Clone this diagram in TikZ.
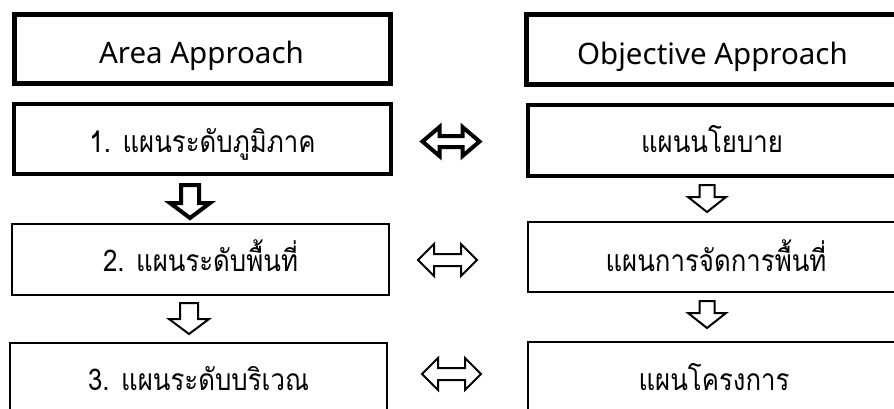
\documentclass[tikz,border=0pt]{standalone}
\usepackage{fontspec}
\setmainfont{Noto Sans}
\newfontfamily\thaifont[Script=Thai,FakeStretch=0.86]{Loma}
\begin{document}
\begin{tikzpicture}[x=1pt,y=-1pt,
  thickbox/.style={draw=black,line width=5pt,minimum width=376pt,minimum height=69pt,inner sep=0pt},
  midbox/.style={draw=black,line width=4pt,minimum width=377pt,minimum height=70pt,inner sep=0pt},
  thinbox/.style={draw=black,line width=2pt,minimum width=377pt,minimum height=71pt,inner sep=0pt},
  lbl/.style={anchor=base,inner sep=0pt,font=\fontsize{29.5}{32}\selectfont},
  thl/.style={anchor=base,inner sep=0pt,font=\thaifont\fontsize{30}{34}\selectfont},
  barrow/.style={draw=black,line join=miter,fill=white}]
\useasboundingbox (0,0) rectangle (894,408);
\clip (0,0) rectangle (894,408);
% left column boxes
\node[thickbox] (h1) at (202.5,49) {};
\node[midbox] (a1) at (202.5,139) {};
\node[thinbox] (a2) at (200.5,259.5) {};
\node[thinbox] (a3) at (198.5,378.5) {};
% right column boxes
\node[thickbox,minimum height=70pt] (h2) at (714.5,49.5) {};
\node[midbox,minimum height=71pt] (b1) at (716,140.5) {};
\node[thinbox,minimum height=70pt] (b2) at (716.5,257) {};
\node[thinbox] (b3) at (716.5,377.5) {};
% labels
\node[lbl] (th1) at (201.5,63.5) {Area Approach};
\node[lbl] (th2) at (712.5,64) {Objective Approach};
\node[thl] (ta1) at (202.5,152.5) {1. แผนระดับภูมิภาค};
\node[thl] (ta2) at (200.5,271) {2. แผนระดับพื้นที่};
\node[thl] (ta3) at (198.5,390) {3. แผนระดับบริเวณ};
\node[thl] (tb1) at (712,152.5) {แผนนโยบาย};
\node[thl] (tb2) at (716,271) {แผนการจัดการพื้นที่};
\node[thl] (tb3) at (714,390) {แผนโครงการ};
% double arrows: center x, center y, half length, head length, shaft half, head half, line width
\newcommand{\dblarr}[7]{%
  \draw[barrow,line width=#7] (#1-#3,#2) -- ++(#4,-#6) -- ++(0,#6-#5) -- (#1+#3-#4,#2-#5) -- ++(0,#5-#6) -- (#1+#3,#2) -- ++(-#4,#6) -- ++(0,#5-#6) -- (#1-#3+#4,#2+#5) -- ++(0,#6-#5) -- cycle;}
\dblarr{451}{141.5}{28.5}{17}{5.5}{14.5}{4pt}
\dblarr{447.5}{260}{29.5}{16}{6}{16}{2pt}
\dblarr{451.5}{374}{29.5}{16}{6}{16}{2pt}
% down arrows: cx, top, headbase, tip, shaft half, head half, line width
\newcommand{\dnarr}[7]{%
  \draw[barrow,line width=#7] (#1-#5,#2) -- (#1+#5,#2) -- (#1+#5,#3) -- (#1+#6,#3) -- (#1,#4) -- (#1-#6,#3) -- (#1-#5,#3) -- cycle;}
\dnarr{190}{185}{203}{218}{9}{20}{4pt}
\dnarr{189}{303}{319}{334}{9}{20}{2pt}
\dnarr{707}{185}{197}{212}{7.5}{19}{2pt}
\dnarr{707}{301}{313}{328}{7.5}{19}{2pt}
\end{tikzpicture}
\end{document}
